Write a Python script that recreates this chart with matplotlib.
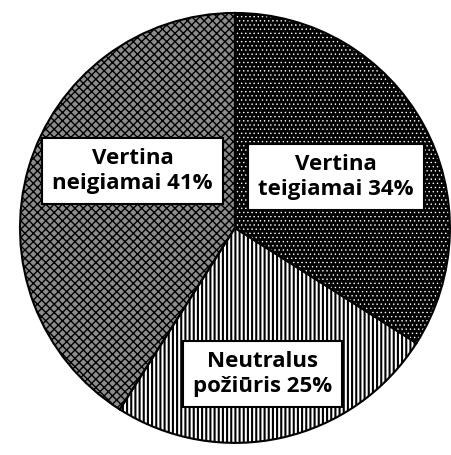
import matplotlib.pyplot as plt

labels = ['Vertina\nteigiamai 34%', 'Neutralus\npožiūris 25%', 'Vertina\nneigiamai 41%']
values = [34, 25, 41]
label_pos = [(0.47, 0.237), (0.13, -0.68), (-0.477, 0.265)]

faces = ['black', 'white', '#8c8c8c']
hatches = ['....', '||||', 'xxxx']
hcolors = ['white', 'black', 'black']
hwidths = [0.5, 1.5, 1.0]

fig = plt.figure(figsize=(4.51, 4.55), dpi=100)
ax = fig.add_axes([0, 0, 1, 1])

wedges, _ = ax.pie(values, startangle=90, counterclock=False, radius=1)
for w, fc, h, hc, hw in zip(wedges, faces, hatches, hcolors, hwidths):
    w.set_facecolor(fc)
    w.set_hatch(h)
    w.set_edgecolor(hc)
    w.set_linewidth(0)
    w.set_hatch_linewidth(hw)

# black outline on top
ax.pie(values, startangle=90, counterclock=False, radius=1,
       wedgeprops=dict(fill=False, edgecolor='black', linewidth=1.5))

for txt, (x, y) in zip(labels, label_pos):
    ax.text(x, y, txt, ha='center', va='center', fontsize=16,
            fontweight='bold', family='Open Sans', linespacing=1.25,
            bbox=dict(boxstyle='square,pad=0.45', facecolor='white',
                      edgecolor='black', linewidth=1.5))

ax.set_xlim(-1.093, 1.005)
ax.set_ylim(-1.056, 1.06)
ax.set_aspect('equal')
ax.axis('off')
fig.savefig('out.png', dpi=100)
